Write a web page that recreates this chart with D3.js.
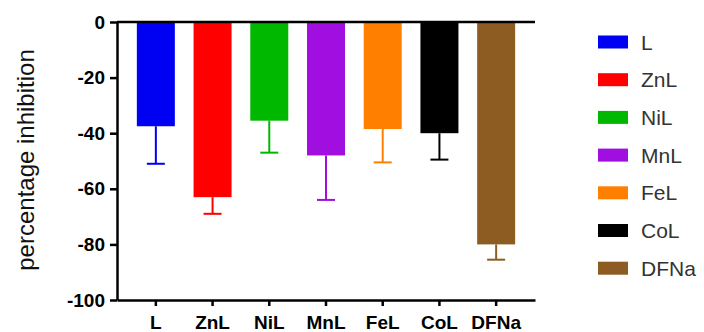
<!DOCTYPE html>
<html>
  <head>
    <meta charset="UTF-8" />
    <script src="https://cdn.jsdelivr.net/npm/d3@7/dist/d3.min.js"></script>
    <style>
      body { margin: 0; background: #fff; }
      svg { display: block; font-family: "Liberation Sans", Arial, sans-serif; }
    </style>
  </head>
  <body>
    <svg></svg>
    <script>
      // data
      const categories = ["L", "ZnL", "NiL", "MnL", "FeL", "CoL", "DFNa"]
      const means = [-37.5, -63, -35.5, -48, -38.5, -40, -80]
      const errors = [13.5, 6, 11.5, 16, 12, 9.5, 5.5]
      const colors = ["#0000f2", "#ff0000", "#00b800", "#a10ee0", "#ff8000", "#000000", "#8c5c22"]
      const yTicks = [0, -20, -40, -60, -80, -100]

      const width = 704
      const height = 332
      const margin = { top: 22, right: 169, bottom: 32, left: 117 }

      const svg = d3.select("svg").attr("width", width).attr("height", height)

      const x = d3
        .scaleBand()
        .domain(categories)
        .range([margin.left, width - margin.right])
        .paddingInner(0.33)
        .paddingOuter(0.35)

      const y = d3
        .scaleLinear()
        .domain([-100, 0])
        .range([height - margin.bottom, margin.top])

      const data = categories.map((c, i) => ({ name: c, v: means[i], e: errors[i], color: colors[i] }))

      // bars
      svg
        .append("g")
        .selectAll("rect")
        .data(data)
        .join("rect")
        .attr("x", (d) => x(d.name))
        .attr("width", x.bandwidth())
        .attr("y", y(0))
        .attr("height", (d) => y(d.v) - y(0))
        .attr("fill", (d) => d.color)

      // error bars (downward only)
      const err = svg.append("g").attr("stroke-width", 2)
      err
        .selectAll("line.stem")
        .data(data)
        .join("line")
        .attr("class", "stem")
        .attr("x1", (d) => x(d.name) + x.bandwidth() / 2)
        .attr("x2", (d) => x(d.name) + x.bandwidth() / 2)
        .attr("y1", (d) => y(d.v))
        .attr("y2", (d) => y(d.v - d.e))
        .attr("stroke", (d) => d.color)
      err
        .selectAll("line.cap")
        .data(data)
        .join("line")
        .attr("class", "cap")
        .attr("x1", (d) => x(d.name) + x.bandwidth() / 2 - 9)
        .attr("x2", (d) => x(d.name) + x.bandwidth() / 2 + 9)
        .attr("y1", (d) => y(d.v - d.e))
        .attr("y2", (d) => y(d.v - d.e))
        .attr("stroke", (d) => d.color)

      // zero line across the top
      svg
        .append("line")
        .attr("x1", margin.left)
        .attr("x2", width - margin.right)
        .attr("y1", y(0))
        .attr("y2", y(0))
        .attr("stroke", "#000")
        .attr("stroke-width", 2.5)

      // y axis
      svg
        .append("g")
        .attr("transform", `translate(${margin.left},0)`)
        .call(
          d3
            .axisLeft(y)
            .tickValues(yTicks)
            .tickFormat((d) => String(d))
            .tickSize(7)
            .tickPadding(5)
            .tickSizeOuter(0)
        )
        .call((g) => g.select(".domain").attr("stroke-width", 2.5))
        .call((g) => g.selectAll(".tick line").attr("stroke-width", 2.5))
        .call((g) =>
          g.selectAll(".tick text").attr("font-size", 19).attr("font-weight", "bold").attr("fill", "#000")
        )

      // x axis
      svg
        .append("g")
        .attr("transform", `translate(0,${y(-100)})`)
        .call(d3.axisBottom(x).tickSize(6).tickPadding(10).tickSizeOuter(0))
        .call((g) => g.select(".domain").attr("stroke-width", 2.5))
        .call((g) => g.selectAll(".tick line").attr("stroke-width", 2.5))
        .call((g) =>
          g.selectAll(".tick text").attr("font-size", 19).attr("font-weight", "bold").attr("fill", "#000")
        )

      // y title
      svg
        .append("text")
        .attr("transform", `translate(34,160) rotate(-90)`)
        .attr("text-anchor", "middle")
        .attr("font-size", 24)
        .attr("fill", "#111")
        .text("percentage inhibition")

      // legend
      const legend = svg
        .append("g")
        .selectAll("g")
        .data(data)
        .join("g")
        .attr("transform", (d, i) => `translate(598,${42 + i * 37.7})`)
      legend
        .append("rect")
        .attr("x", 0)
        .attr("y", -6.5)
        .attr("width", 30)
        .attr("height", 13)
        .attr("fill", (d) => d.color)
      legend
        .append("text")
        .attr("x", 43)
        .attr("dy", "0.36em")
        .attr("font-size", 21)
        .attr("fill", "#333")
        .text((d) => d.name)
    </script>
  </body>
</html>
